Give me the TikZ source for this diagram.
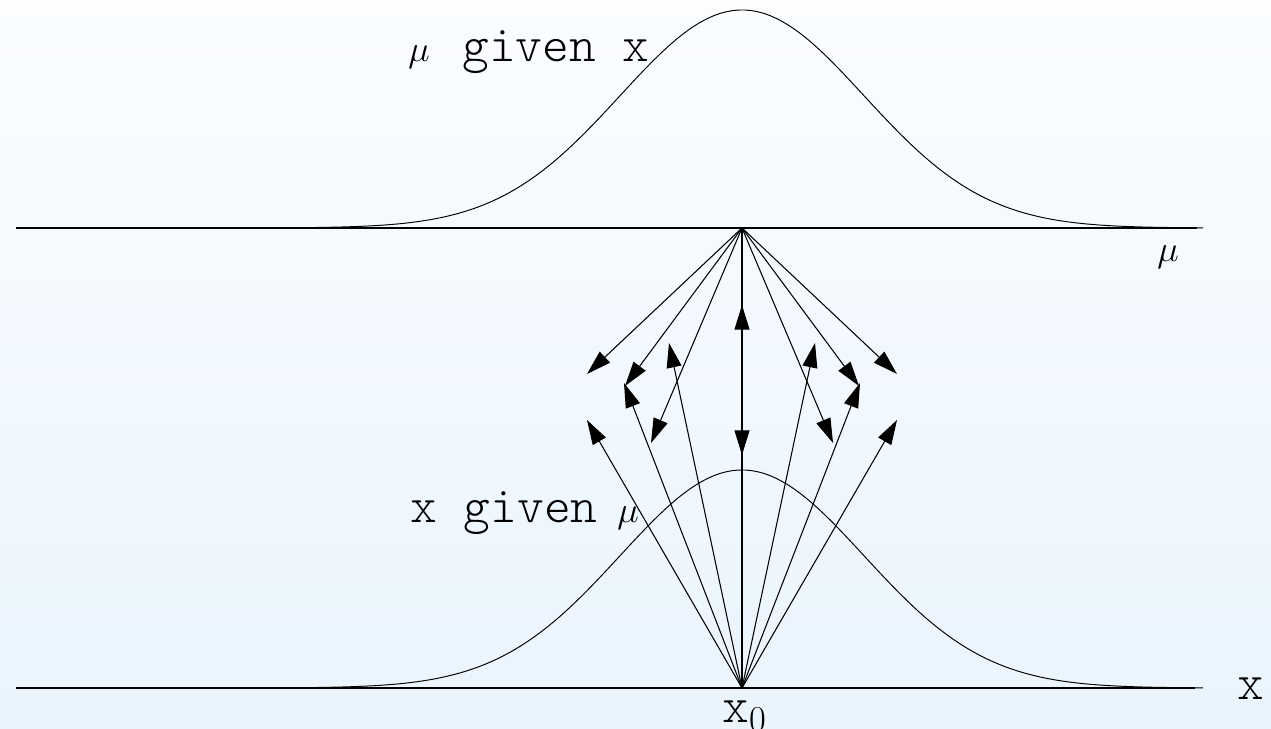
\documentclass[tikz,border=0pt]{standalone}
\usepackage{tikz}
\usetikzlibrary{arrows.meta}
\definecolor{bgtop}{RGB}{251,253,255}
\definecolor{bgbot}{RGB}{233,244,253}

\begin{document}
\begin{tikzpicture}[x=0.02cm,y=0.02cm,
  ax/.style={line width=0.8pt},
  crv/.style={line width=0.55pt},
  arr/.style={line width=0.6pt,-{Triangle[length=14pt,width=8.5pt]}},
  tt/.style={inner sep=0pt,anchor=base west,font=\fontsize{29}{32}\fontseries{l}\ttfamily\selectfont},
  gr/.style={inner sep=0pt,anchor=base west,font=\fontsize{20}{24}\selectfont}]
% ---- background ----
\shade[top color=bgtop,bottom color=bgbot] (0,0) rectangle (1271,729);
\useasboundingbox (0,0) rectangle (1271,729);
% ---- axes ----
\coordinate (muL) at (16,501);
\coordinate (muR) at (1197,501);
\coordinate (xL)  at (16,41);
\coordinate (xR)  at (1195,41);
\coordinate (mu0) at (742,501);
\coordinate (x0)  at (742,41);
\draw[ax] (muL) -- (muR);
\draw[ax] (xL) -- (xR);
% ---- densities ----
\draw[crv] plot[domain=-3.78:3.78,samples=150] ({742+122*\x},{501+218*exp(-\x*\x/2)});
\draw[crv] plot[domain=-3.78:3.78,samples=150] ({742+122*\x},{41+218*exp(-\x*\x/2)});
% ---- labels ----
\node[gr] (gmu)  at (408,667) {$\mu$};
\node[tt] (gx)   at (462,667) {given x};
\node[tt] (xg)   at (410,206) {x given};
\node[gr] (xmu)  at (617,206) {$\mu$};
\node[gr] (amu)  at (1157,467) {$\mu$};
\node[tt] (ax)   at (1237,29) {x};
\node[tt] (ax0)  at (722,6) {x$_0$};
% ---- mu given x ----
\foreach \i/\dx/\ty in {1/-155/355,2/-117/343,3/-91/286,4/0/274,5/91/286,6/117/343,7/155/355}{
  \coordinate (d\i) at (742+\dx,\ty);
  \draw[arr] (mu0) -- (d\i);
}
% ---- x given mu ----
\foreach \i/\dx/\ty in {1/-155/309,2/-118/346,3/-73/386,4/0/424,5/73/386,6/118/346,7/155/309}{
  \coordinate (u\i) at (742+\dx,\ty);
  \draw[arr] (x0) -- (u\i);
}
\end{tikzpicture}
\end{document}
